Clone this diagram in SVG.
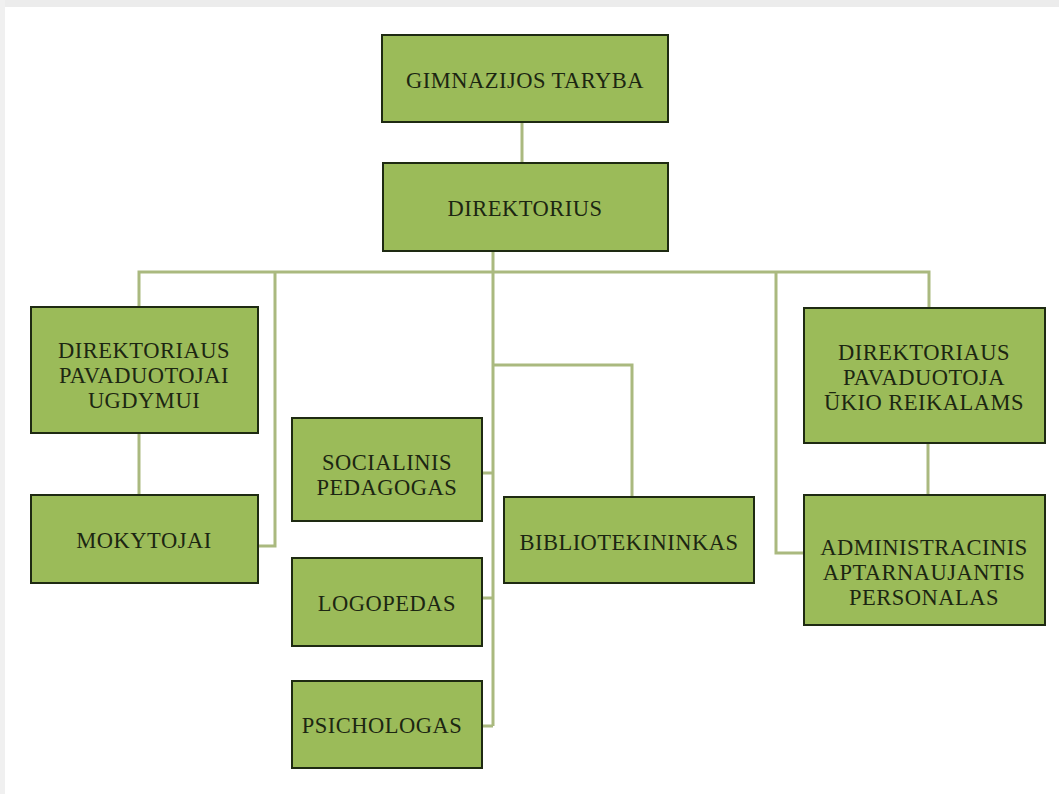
<svg xmlns="http://www.w3.org/2000/svg" width="1059" height="794" viewBox="0 0 1059 794">
<style>
.n rect{fill:#9bbb59;stroke:#1e2a12;stroke-width:2}
.n text{font-family:"Liberation Serif",serif;font-size:22.5px;fill:#1c2612;text-anchor:middle;letter-spacing:0.5px}
.c path{fill:none;stroke:#aab97f;stroke-width:3}
</style>
<rect x="0" y="0" width="1059" height="794" fill="#ffffff"/>
<rect x="0" y="0" width="1059" height="7" fill="#ececec"/>
<rect x="0" y="0" width="5" height="794" fill="#f0f0f0"/>
<g class="c">
<path d="M522 122V163"/>
<path d="M493 251V726"/>
<path d="M139 307V272H929V308"/>
<path d="M275 272V546H258"/>
<path d="M776 272V553H804"/>
<path d="M139 433V495"/>
<path d="M928 443V495"/>
<path d="M482 473H493M482 598H493M482 726H493"/>
<path d="M493 365H632V497"/>
</g>
<g id="taryba" class="n"><rect x="382" y="35" width="286" height="87"/><text x="525" y="88">GIMNAZIJOS TARYBA</text></g>
<g id="direktorius" class="n"><rect x="383" y="163" width="285" height="88"/><text x="525" y="216">DIREKTORIUS</text></g>
<g id="pav-ugdymui" class="n"><rect x="31" y="307" width="227" height="126"/><text x="144" y="358">DIREKTORIAUS</text><text x="144" y="383">PAVADUOTOJAI</text><text x="144" y="408">UGDYMUI</text></g>
<g id="mokytojai" class="n"><rect x="31" y="495" width="227" height="88"/><text x="144" y="548">MOKYTOJAI</text></g>
<g id="socialinis" class="n"><rect x="292" y="418" width="190" height="103"/><text x="387" y="470">SOCIALINIS</text><text x="387" y="495">PEDAGOGAS</text></g>
<g id="logopedas" class="n"><rect x="292" y="558" width="190" height="88"/><text x="387" y="611">LOGOPEDAS</text></g>
<g id="psichologas" class="n"><rect x="292" y="681" width="190" height="87"/><text x="382" y="733">PSICHOLOGAS</text></g>
<g id="bibliotekininkas" class="n"><rect x="504" y="497" width="250" height="86"/><text x="629" y="550">BIBLIOTEKININKAS</text></g>
<g id="pav-ukio" class="n"><rect x="804" y="308" width="241" height="135"/><text x="924" y="360">DIREKTORIAUS</text><text x="924" y="385">PAVADUOTOJA</text><text x="924" y="410">ŪKIO REIKALAMS</text></g>
<g id="administracinis" class="n"><rect x="804" y="495" width="241" height="130"/><text x="924" y="555">ADMINISTRACINIS</text><text x="924" y="580">APTARNAUJANTIS</text><text x="924" y="605">PERSONALAS</text></g>
</svg>
